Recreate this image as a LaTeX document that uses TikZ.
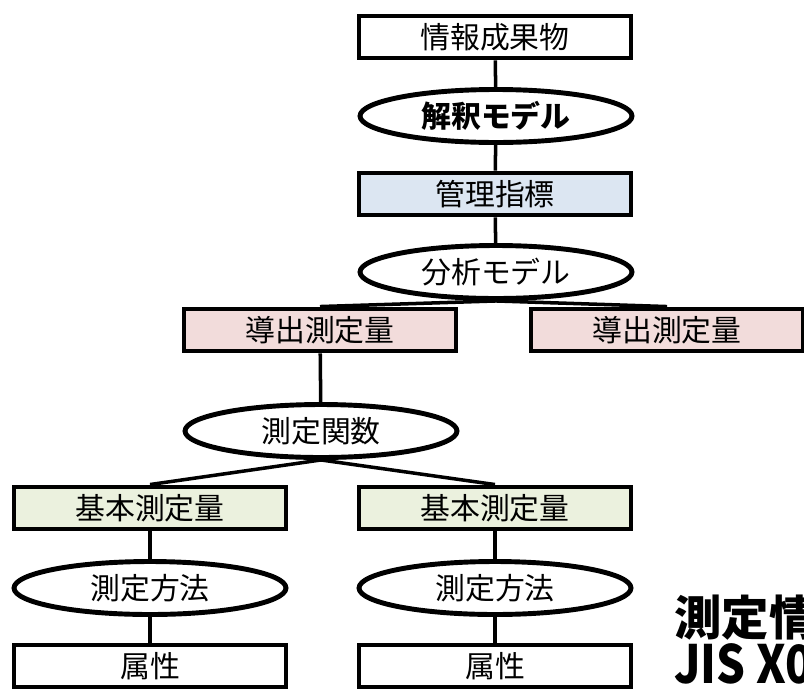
\documentclass[tikz,border=0pt]{standalone}
\usepackage{fontspec}
\setmainfont{Noto Sans CJK JP}
\usetikzlibrary{shapes.geometric}

\definecolor{kanriblue}{HTML}{DCE6F2}
\definecolor{doutpink}{HTML}{F2DCDB}
\definecolor{kihongreen}{HTML}{EBF1DE}

\begin{document}
\begin{tikzpicture}[x=0.02cm,y=-0.02cm,
	box/.style={draw,line width=2.8pt,minimum width=5.44cm,minimum height=0.84cm,inner sep=0pt,font=\fontsize{17}{20}\selectfont},
	model/.style={draw,ellipse,fill=white,line width=2.8pt,minimum width=5.44cm,minimum height=1.06cm,inner sep=0pt,font=\fontsize{17}{20}\selectfont},
	link/.style={line width=2pt}]
		\useasboundingbox (0,0) rectangle (804,690);
		\clip (0,0) rectangle (804,690);
		
		\node[box] (joho) at (495,37) {情報成果物};
		\node[model,font=\fontsize{17}{20}\selectfont\bfseries] (kaishaku) at (496,116) {解釈モデル};
		\node[box,fill=kanriblue] (kanri) at (495,194) {管理指標};
		\node[model] (bunseki) at (496,272) {分析モデル};
		\node[box,fill=doutpink] (dout1) at (320,330) {導出測定量};
		\node[box,fill=doutpink] (dout2) at (667,330) {導出測定量};
		\node[model] (kansu) at (321,431) {測定関数};
		\foreach \n/\x in {1/150, 2/495} {
			\node[box,fill=kihongreen] (kihon\n) at (\x,508) {基本測定量};
			\node[model] (hoho\n) at (\x,588) {測定方法};
			\node[box] (zokusei\n) at (\x,666) {属性};
		}
		
		\draw[link] (joho) -- (kaishaku);
		\draw[link] (kaishaku) -- (kanri);
		\draw[link] (kanri) -- (bunseki);
		\draw[link] (bunseki.south) -- (dout1.north);
		\draw[link] (bunseki.south) -- (dout2.north);
		\draw[link] (dout1) -- (kansu);
		\draw[link] (kansu.south) -- (kihon1.north);
		\draw[link] (kansu.south) -- (kihon2.north);
		\foreach \n in {1, 2} {
			\draw[link] (kihon\n) -- (hoho\n);
			\draw[link] (hoho\n) -- (zokusei\n);
		}
		
		\node[anchor=west,inner sep=0pt,font=\fontsize{27}{30}\selectfont\bfseries] (title) at (674,617) {測定情報モデル};
		\node[anchor=west,inner sep=0pt,font=\fontsize{30}{33}\selectfont\bfseries] (jis) at (674,664) {\scalebox{0.86}[1]{JIS X0141}};
	\end{tikzpicture}
\end{document}
